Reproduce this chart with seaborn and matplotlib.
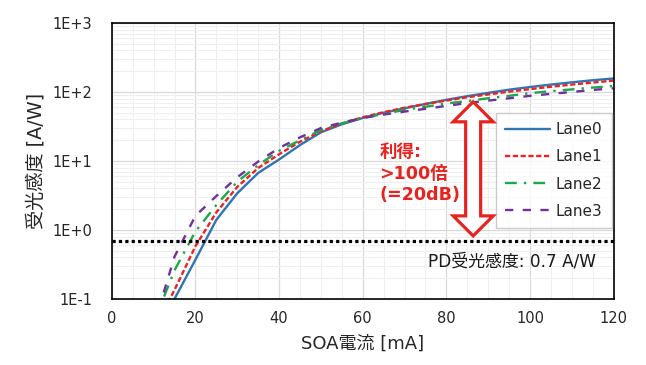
import numpy as np
import pandas as pd
import matplotlib
matplotlib.use("Agg")
import matplotlib.pyplot as plt
import matplotlib.ticker as mticker
from matplotlib.patches import Polygon
import seaborn as sns

# data (SOA current vs responsivity)
current_ma = [10, 15, 20, 25, 30, 35, 40, 45, 50, 55, 60, 65, 70, 75, 80, 85, 90, 95, 100, 105, 110, 115, 120]
lane0 = [0.03, 0.1, 0.37, 1.4, 3.4, 6.7, 10.5, 17, 26, 34, 42, 50, 58, 67, 77, 87, 97, 108, 118, 128, 138, 148, 157]
lane1 = [0.035, 0.135, 0.58, 1.8, 4.2, 7.9, 12.5, 19, 27, 35, 43, 51, 59, 67, 75, 84, 92, 101, 110, 119, 128, 137, 146]
lane2 = [0.045, 0.26, 0.95, 2.3, 5.0, 8.7, 14, 20, 28, 35, 42, 48, 55, 61, 68, 74, 81, 88, 96, 103, 109, 116, 122]
lane3 = [0.04, 0.41, 1.6, 3.1, 5.8, 9.8, 15.4, 22, 30, 36, 42, 47, 52, 57, 63, 69, 75, 81, 88, 94, 100, 107, 113]
lane_names = ["Lane0", "Lane1", "Lane2", "Lane3"]

x_ticks = [0, 20, 40, 60, 80, 100, 120]
y_ticks = [0.1, 1, 10, 100, 1000]
y_tick_labels = ["1E-1", "1E+0", "1E+1", "1E+2", "1E+3"]

pd_responsivity = 0.7
gain_x = 86.4
gain_low, gain_high = 0.82, 72

df = pd.DataFrame({
    "current": current_ma * 4,
    "resp": lane0 + lane1 + lane2 + lane3,
    "lane": [n for n in lane_names for _ in current_ma],
})

sns.set_theme(style="white")
plt.rcParams["font.family"] = ["DejaVu Sans", "Noto Sans CJK JP"]

fig, ax = plt.subplots(figsize=(6.46, 3.65), dpi=100)
fig.subplots_adjust(left=0.173, right=0.950, bottom=0.181, top=0.937)

colors = {"Lane0": "#2e75b6", "Lane1": "#ee2020", "Lane2": "#1ea64a", "Lane3": "#7030a0"}
styles = {
    "Lane0": "-",
    "Lane1": (0, (2.2, 1.1)),
    "Lane2": (0, (5, 3, 1, 3)),
    "Lane3": (0, (3.5, 4)),
}
for name in lane_names:
    sub = df[df["lane"] == name]
    sns.lineplot(data=sub, x="current", y="resp", ax=ax, color=colors[name],
                 linestyle=styles[name], linewidth=1.7, label=name)

ax.set_yscale("log")
ax.set_xlim(0, 120)
ax.set_ylim(0.1, 1000)

# grid
ax.xaxis.set_minor_locator(mticker.MultipleLocator(5))
ax.yaxis.set_minor_locator(mticker.LogLocator(base=10, subs=np.arange(2, 10)))
ax.grid(which="major", color="#d9d9d9", linewidth=0.9)
ax.grid(which="minor", color="#efefef", linewidth=0.8)
ax.set_axisbelow(True)

ax.set_xticks(x_ticks)
ax.set_yticks(y_ticks)
ax.set_yticklabels(y_tick_labels)
ax.yaxis.set_minor_formatter(mticker.NullFormatter())
ax.tick_params(which="both", length=0)
ax.tick_params(axis="x", labelsize=10.5, pad=9, colors="#262626")
ax.tick_params(axis="y", labelsize=10.5, pad=14, colors="#262626")

for sp in ax.spines.values():
    sp.set_color("black")
    sp.set_linewidth(1.2)

ax.set_xlabel("SOA電流 [mA]", fontsize=13, labelpad=6, color="#262626")
ax.set_ylabel("受光感度 [A/W]", fontsize=13.8, labelpad=5, color="#262626")

# PD responsivity reference line
ax.axhline(pd_responsivity, color="black", linewidth=2.3, linestyle=(0, (1, 1)))
ax.text(0.965, 0.134, "PD受光感度: 0.7 A/W", transform=ax.transAxes, ha="right",
        va="center", fontsize=12.2, color="#1a1a1a")

# hollow double-headed gain arrow (built in display pixels)
fig.canvas.draw()
x0, ytop = ax.transData.transform((gain_x, gain_high))
_, ybot = ax.transData.transform((gain_x, gain_low))
hw, sw, hl = 20, 7.5, 20
verts = [
    (x0, ytop), (x0 + hw, ytop - hl), (x0 + sw, ytop - hl),
    (x0 + sw, ybot + hl), (x0 + hw, ybot + hl), (x0, ybot),
    (x0 - hw, ybot + hl), (x0 - sw, ybot + hl), (x0 - sw, ytop - hl),
    (x0 - hw, ytop - hl),
]
arrow = Polygon(verts, closed=True, transform=None, facecolor="white",
                edgecolor="#e8231f", linewidth=2.3, joinstyle="miter", zorder=4)
fig.add_artist(arrow)

ax.text(0.533, 0.565, "利得:\n>100倍\n(=20dB)", transform=ax.transAxes, ha="left",
        va="top", fontsize=12.6, fontweight="bold", color="#e8231f", linespacing=1.25)

leg = ax.legend(loc="upper right", bbox_to_anchor=(0.996, 0.674), borderaxespad=0,
                fontsize=11, frameon=True, fancybox=False, handlelength=2.9,
                labelspacing=0.8, handletextpad=0.4, borderpad=0.6)
leg.get_frame().set_edgecolor("#bfbfbf")
leg.get_frame().set_linewidth(1.0)
leg.set_zorder(5)

fig.savefig("out.png", dpi=100)
